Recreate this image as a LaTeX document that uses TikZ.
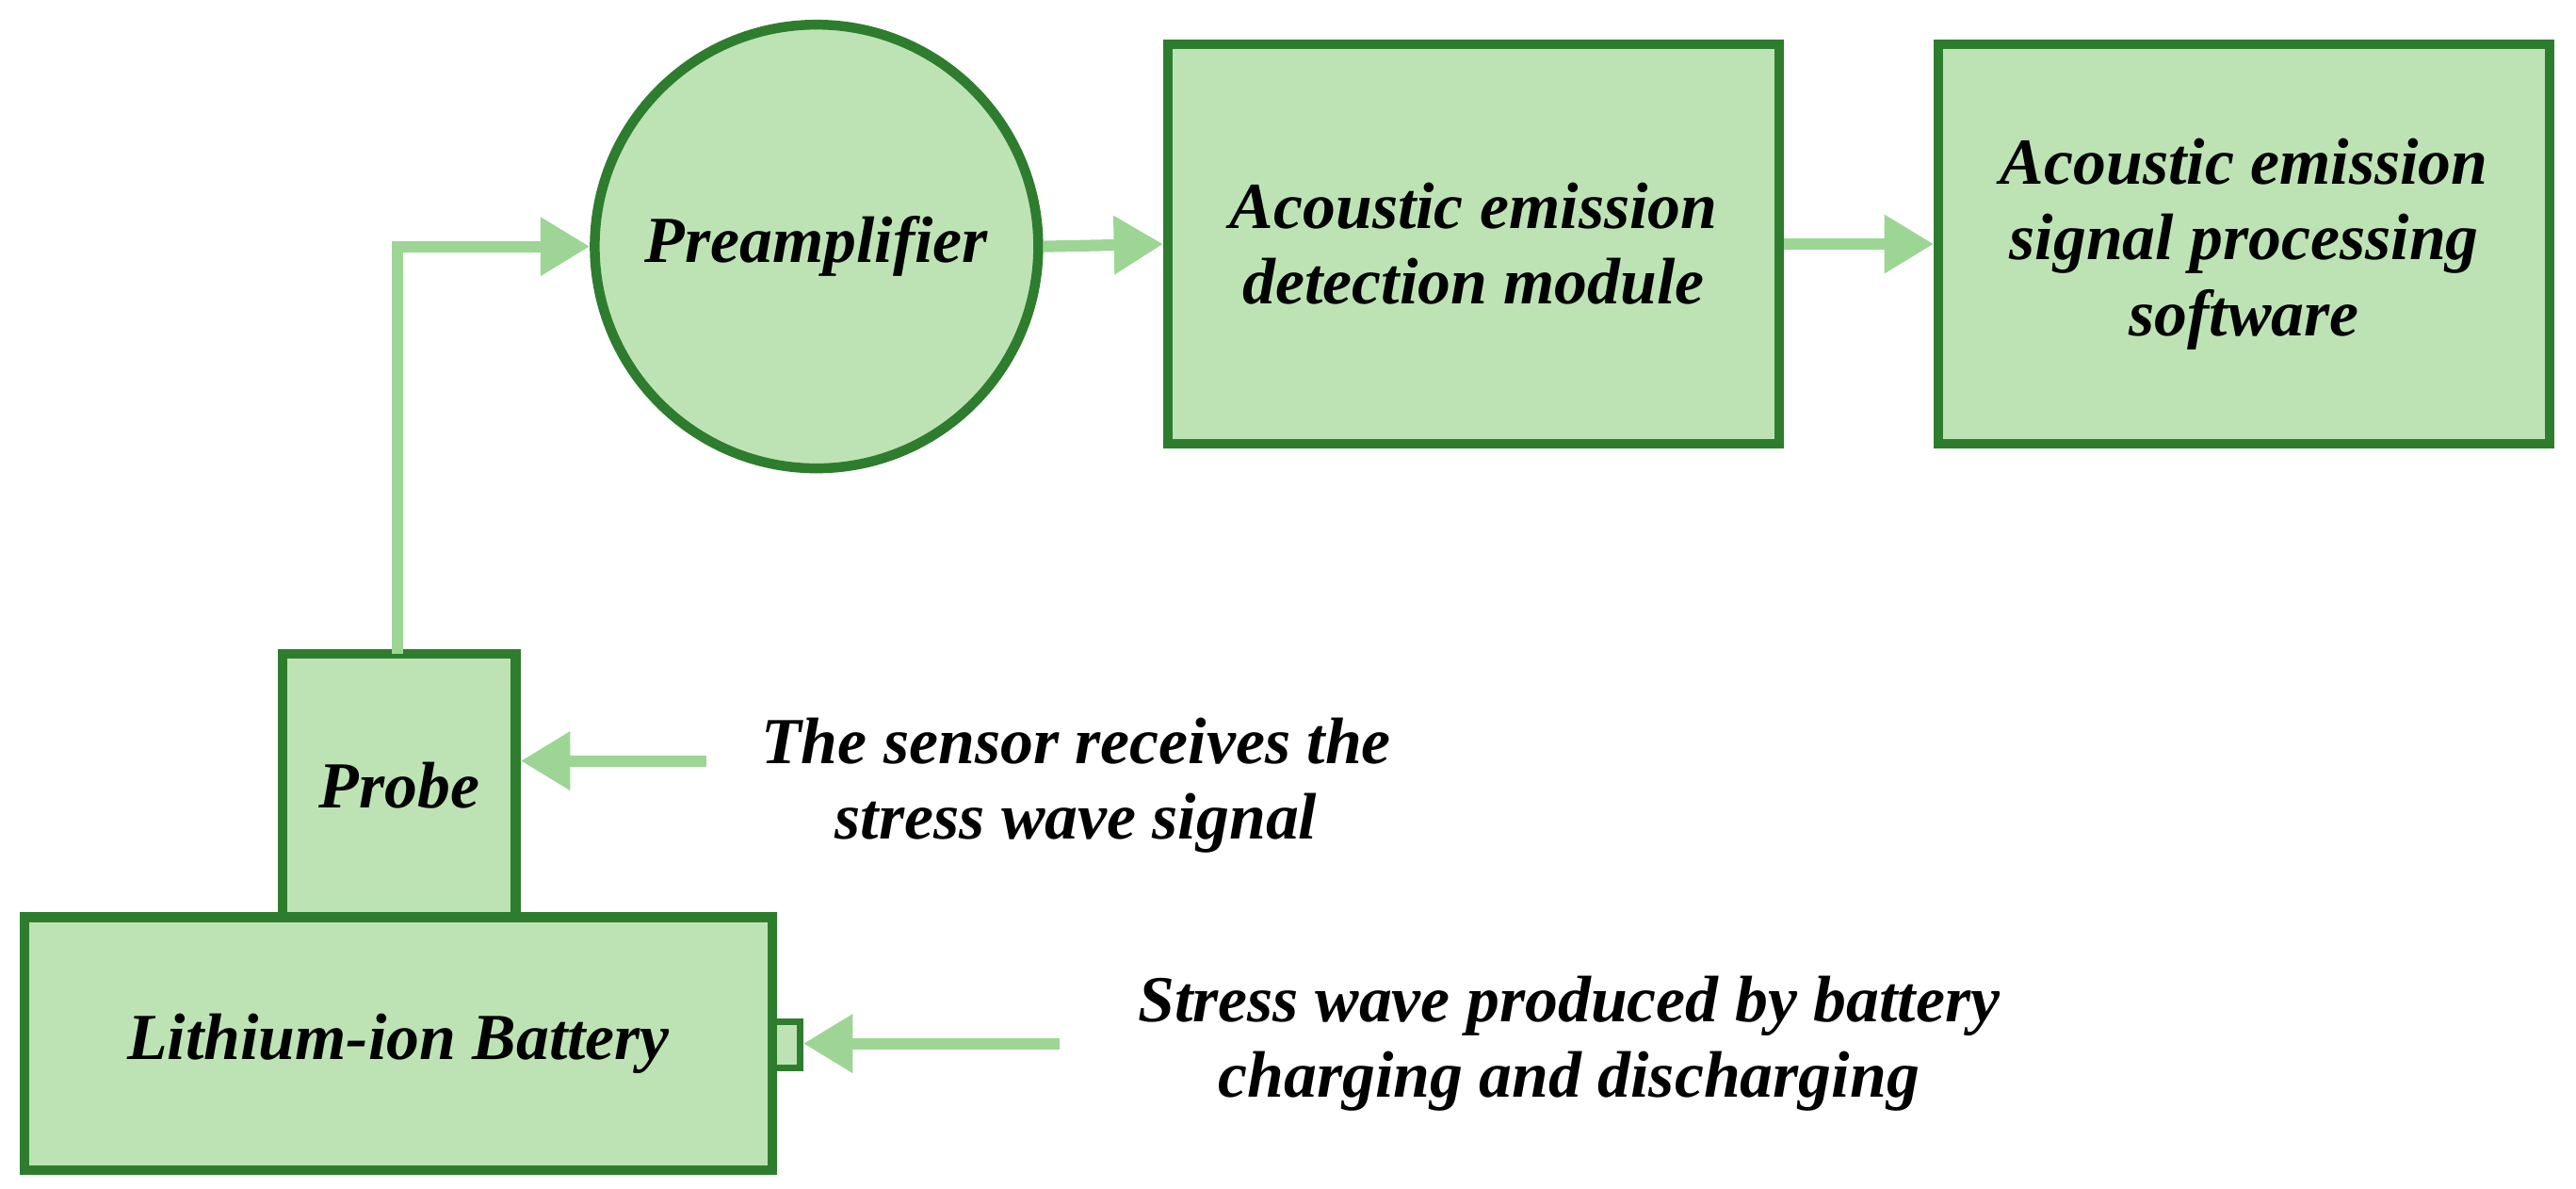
\documentclass[tikz,border=0pt]{standalone}
\usepackage{fontspec}
\setmainfont{Liberation Serif}
\usetikzlibrary{arrows.meta}
\definecolor{fillg}{HTML}{BDE3B5}
\definecolor{edgeg}{HTML}{2E7D2E}
\definecolor{arrg}{HTML}{9DD595}
\begin{document}
\begin{tikzpicture}[x=1pt,y=-1pt,
 f/.style={font=\fontsize{40}{46}\selectfont\bfseries\itshape},
 box/.style={draw=edgeg,fill=fillg,line width=6pt,align=center,inner sep=0pt,f},
 lbl/.style={f,align=center},
 arr/.style={draw=arrg,line width=7pt,-{Triangle[length=30pt,width=34pt]}}]
\useasboundingbox (0,0) rectangle (1568,723);
\node[box,minimum width=372pt,minimum height=243pt] (det) at (897,148.5) {Acoustic emission\\detection module};
\node[box,minimum width=372pt,minimum height=243pt] (sw) at (1366,148.5) {Acoustic emission\\signal processing\\software};
\node[box,circle,minimum size=270pt] (pre) at (497,150) {Preamplifier};
\node[box,minimum width=142pt,minimum height=160pt] (probe) at (243,478) {Probe};
\node[box,minimum width=455pt,minimum height=154pt] (bat) at (242.5,635) {Lithium-ion Battery};
\node[box,line width=4pt,minimum width=16pt,minimum height=28pt] (sq) at (479,636) {};
\coordinate (pt) at (242,398);
\coordinate (c1) at (242,150);
\draw[arr] (pt) -- (c1) -- (pre.west);
\draw[arr] (pre.east) -- (det.west);
\draw[arr] (det.east) -- (sw.west);
\node[lbl] (t1) at (655,478) {The sensor receives the\\stress wave signal};
\node[lbl] (t2) at (955,635) {Stress wave produced by battery\\charging and discharging};
\coordinate (a1) at (430,463);
\coordinate (a2) at (645,635);
\draw[arr] (a1) -- (probe.east|-a1);
\draw[arr] (a2) -- (sq.east|-a2);
\end{tikzpicture}
\end{document}
